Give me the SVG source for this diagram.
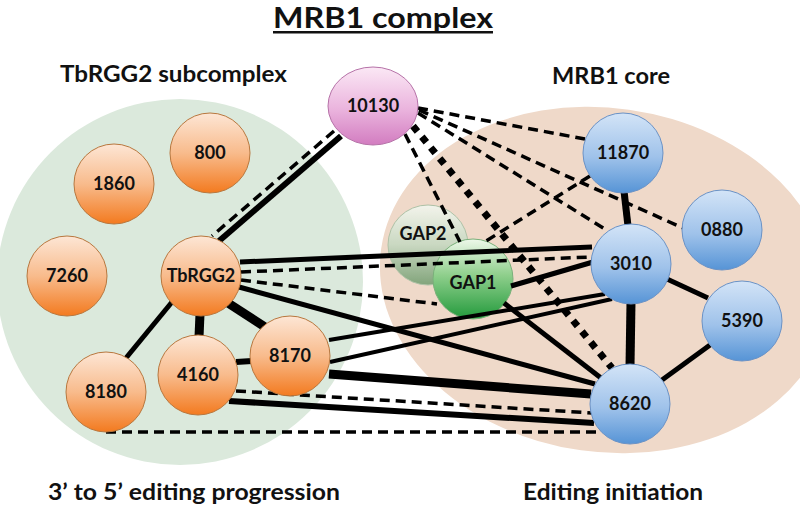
<svg xmlns="http://www.w3.org/2000/svg" width="800" height="510" viewBox="0 0 800 510">
<defs>
<linearGradient id="gO" x1="0" y1="0" x2="0" y2="1"><stop offset="0" stop-color="#fde6d5"/><stop offset="0.5" stop-color="#f8bb8c"/><stop offset="1" stop-color="#f37a1f"/></linearGradient>
<linearGradient id="gB" x1="0" y1="0" x2="0" y2="1"><stop offset="0" stop-color="#d3e4f7"/><stop offset="0.55" stop-color="#9fc2ea"/><stop offset="1" stop-color="#5694d6"/></linearGradient>
<linearGradient id="gP" x1="0" y1="0" x2="0" y2="1"><stop offset="0" stop-color="#fbe8f5"/><stop offset="0.55" stop-color="#eab3dd"/><stop offset="1" stop-color="#d27cc0"/></linearGradient>
<linearGradient id="gG2" x1="0" y1="0" x2="0" y2="1"><stop offset="0" stop-color="#f4f9f2"/><stop offset="0.5" stop-color="#c3d8c0"/><stop offset="1" stop-color="#6f9c6e"/></linearGradient>
<linearGradient id="gG1" x1="0" y1="0" x2="0" y2="1"><stop offset="0" stop-color="#eef8ea"/><stop offset="0.45" stop-color="#8fcf8c"/><stop offset="1" stop-color="#239a3c"/></linearGradient>
</defs>
<style>
.o{fill:url(#gO);stroke:#b8773e;stroke-width:1}
.b{fill:url(#gB);stroke:#6a92c6;stroke-width:1}
.n{font-family:Lato,"Open Sans","Liberation Sans",sans-serif;font-weight:bold;font-size:18px;text-anchor:middle;fill:#111}
.h{font-family:Lato,"Open Sans","Liberation Sans",sans-serif;font-weight:bold;fill:#111}
.s{stroke:#000;fill:none}
.d{stroke:#000;fill:none;stroke-width:3.5;stroke-dasharray:10 6}
.p{stroke:#000;fill:none;stroke-width:7;stroke-dasharray:7 7}
</style>
<rect width="800" height="510" fill="#fff"/>
<g id="backgrounds">
<circle cx="180" cy="282" r="183" fill="#dbe9dc"/>
<ellipse cx="605" cy="280" rx="226" ry="172" transform="rotate(8 605 280)" fill="#efd9c9"/>
</g>
<g id="labels">
<text class="h" x="273" y="28" font-size="29" textLength="220" lengthAdjust="spacingAndGlyphs">MRB1 complex</text>
<rect x="273" y="31" width="220" height="2.5" fill="#111"/>
<text class="h" x="60" y="82" font-size="22" textLength="227" lengthAdjust="spacingAndGlyphs">TbRGG2 subcomplex</text>
<text class="h" x="552" y="84" font-size="22" textLength="118" lengthAdjust="spacingAndGlyphs">MRB1 core</text>
<text class="h" x="48" y="500" font-size="22" textLength="292" lengthAdjust="spacingAndGlyphs">3’ to 5’ editing progression</text>
<text class="h" x="523" y="500" font-size="22" textLength="180" lengthAdjust="spacingAndGlyphs">Editing initiation</text>
</g>
<g id="GAP2"><circle cx="428" cy="245" r="40" fill="url(#gG2)" stroke="#a3bea1" stroke-width="1" opacity="0.85"/><text class="n" x="423" y="240">GAP2</text></g>
<g id="GAP1"><circle cx="473" cy="279" r="40" fill="url(#gG1)" stroke="#7ab07a" stroke-width="1"/><text class="n" x="473" y="289">GAP1</text></g>
<g id="connectors">
<line class="s" stroke-width="6" x1="341" y1="136" x2="219" y2="241"/>
<line class="d" x1="334" y1="131" x2="212" y2="236"/>
<line class="s" stroke-width="5" x1="240" y1="262" x2="592" y2="247"/>
<line class="d" x1="241" y1="272" x2="591" y2="257"/>
<line class="d" x1="241" y1="280" x2="437" y2="304"/>
<line class="s" stroke-width="5" x1="239" y1="287" x2="595" y2="384"/>
<line class="s" stroke-width="4" x1="329" y1="340" x2="605" y2="294"/>
<line class="s" stroke-width="4" x1="330" y1="362" x2="612" y2="299"/>
<line class="s" stroke-width="9" x1="329" y1="374" x2="591" y2="394"/>
<line class="d" x1="236" y1="391" x2="592" y2="413"/>
<line class="s" stroke-width="6" x1="229" y1="401" x2="594" y2="423"/>
<line class="d" x1="106" y1="432" x2="601" y2="432"/>
<line class="s" stroke-width="9" x1="200" y1="314" x2="199" y2="337"/>
<line class="s" stroke-width="9" x1="228" y1="303" x2="265" y2="327"/>
<line class="s" stroke-width="5" x1="172" y1="302" x2="126" y2="358"/>
<line class="s" stroke-width="6" x1="236" y1="362" x2="252" y2="361"/>
<line class="s" stroke-width="7" x1="624" y1="191" x2="628" y2="226"/>
<line class="s" stroke-width="9" x1="631" y1="302" x2="630" y2="366"/>
<line class="s" stroke-width="5" x1="667" y1="279" x2="708" y2="298"/>
<line class="s" stroke-width="5" x1="710" y1="345" x2="662" y2="380"/>
<line class="s" stroke-width="5" x1="511" y1="286" x2="593" y2="262"/>
<line class="s" stroke-width="5" x1="504" y1="303" x2="601" y2="378"/>
<line class="d" x1="418" y1="108" x2="585" y2="139"/>
<line class="d" x1="419" y1="110" x2="683" y2="228"/>
<line class="d" x1="418" y1="113" x2="608" y2="231"/>
<line class="d" x1="405" y1="134" x2="460" y2="242"/>
<line class="d" x1="590" y1="176" x2="486" y2="241"/>
<line class="p" x1="413" y1="126" x2="612" y2="368"/>
</g>
<g id="n10130"><ellipse cx="373" cy="106" rx="45" ry="39" fill="url(#gP)" stroke="#b672a8" stroke-width="1"/><text class="n" x="373" y="112">10130</text></g>
<g id="n800"><circle class="o" cx="210" cy="153" r="40"/><text class="n" x="210" y="159">800</text></g>
<g id="n1860"><circle class="o" cx="114" cy="184" r="40"/><text class="n" x="114" y="190">1860</text></g>
<g id="n7260"><circle class="o" cx="67" cy="276" r="40"/><text class="n" x="67" y="282">7260</text></g>
<g id="TbRGG2"><circle class="o" cx="201" cy="276" r="40"/><text class="n" x="201" y="282">TbRGG2</text></g>
<g id="n8180"><circle class="o" cx="106" cy="392" r="40"/><text class="n" x="106" y="398">8180</text></g>
<g id="n4160"><circle class="o" cx="198" cy="375" r="40"/><text class="n" x="198" y="381">4160</text></g>
<g id="n8170"><circle class="o" cx="290" cy="356" r="40"/><text class="n" x="290" y="362">8170</text></g>
<g id="n11870"><circle class="b" cx="623" cy="153" r="40"/><text class="n" x="623" y="159">11870</text></g>
<g id="n0880"><circle class="b" cx="722" cy="230" r="40"/><text class="n" x="722" y="236">0880</text></g>
<g id="n3010"><circle class="b" cx="631" cy="264" r="40"/><text class="n" x="631" y="270">3010</text></g>
<g id="n5390"><circle class="b" cx="742" cy="321" r="40"/><text class="n" x="742" y="327">5390</text></g>
<g id="n8620"><circle class="b" cx="630" cy="404" r="40"/><text class="n" x="630" y="410">8620</text></g>
</svg>
